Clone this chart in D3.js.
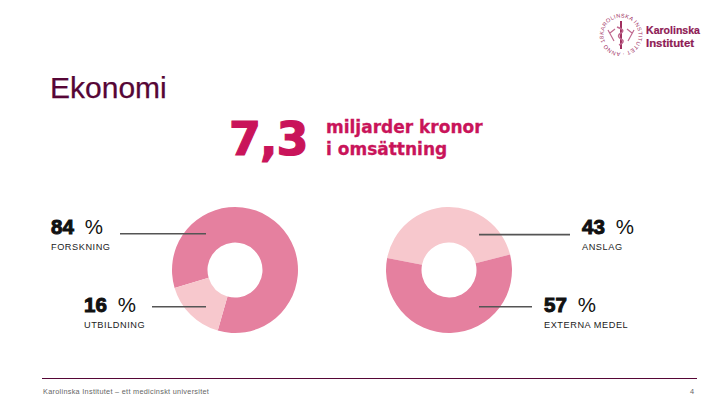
<!DOCTYPE html>
<html>
<head>
<meta charset="utf-8">
<script src="https://d3js.org/d3.v7.min.js"></script>
<style>
html, body { margin: 0; padding: 0; background: #fff; }
text { font-family: "Liberation Sans", Arial, sans-serif; }
</style>
</head>
<body>
<div id="chart"></div>
<script>
var svgWidth = 720;
var svgHeight = 405;

// left donut
var purposeLabels = ["FORSKNING", "UTBILDNING"];
var purposeValues = [84, 16];
// right donut
var fundingLabels = ["ANSLAG", "EXTERNA MEDEL"];
var fundingValues = [43, 57];

var dark = "#e5809f";
var light = "#f7c8cd";
var plum = "#560636";
var crimson = "#c9145a";

var svg = d3.select("#chart")
    .append("svg")
    .attr("width", svgWidth)
    .attr("height", svgHeight)
    .style("display", "block");

function drawDonut(cx, cy, values, colors, startDeg) {
    var start = startDeg * Math.PI / 180;
    var pie = d3.pie().sort(null).startAngle(start).endAngle(start + 2 * Math.PI);
    var arc = d3.arc().innerRadius(27.5).outerRadius(63);
    svg.append("g")
        .attr("transform", `translate(${cx}, ${cy})`)
        .selectAll("path")
        .data(pie(values))
        .enter()
        .append("path")
        .attr("d", arc)
        .attr("fill", (d, i) => colors[i]);
}

drawDonut(235, 270, purposeValues, [dark, light], 253.5);
drawDonut(449, 270, fundingValues, [light, dark], 281);

function callout(x, y, value, label, x1, x2, lineY) {
    var t = svg.append("text")
        .attr("x", x)
        .attr("y", y)
        .attr("font-size", 20.5)
        .attr("fill", "#111");
    t.append("tspan")
        .text(value)
        .attr("font-weight", "bold")
        .attr("stroke", "#111")
        .attr("stroke-width", 1);
    t.append("tspan").attr("dx", 11).text("%");

    svg.append("text")
        .attr("x", x)
        .attr("y", y + 16)
        .attr("font-size", 9.2)
        .attr("letter-spacing", 0.55)
        .attr("fill", "#222")
        .text(label);

    svg.append("line")
        .attr("x1", x1)
        .attr("x2", x2)
        .attr("y1", lineY)
        .attr("y2", lineY)
        .attr("stroke", "#555")
        .attr("stroke-width", 1.6);
}

callout(51, 234, purposeValues[0], purposeLabels[0], 120, 206, 233.7);
callout(84, 311.5, purposeValues[1], purposeLabels[1], 152, 206, 306.8);
callout(582, 234, fundingValues[0], fundingLabels[0], 479, 570, 234.6);
callout(544, 311.5, fundingValues[1], fundingLabels[1], 479, 532, 306.8);

// headings
svg.append("text")
    .attr("x", 50)
    .attr("y", 98)
    .attr("font-size", 30)
    .attr("fill", plum)
    .attr("stroke", plum)
    .attr("stroke-width", 0.25)
    .text("Ekonomi");

svg.append("text")
    .attr("x", 229)
    .attr("y", 155)
    .style("font-family", "DejaVu Sans")
    .attr("font-size", 46)
    .attr("font-weight", "bold")
    .attr("letter-spacing", -1)
    .attr("fill", crimson)
    .attr("stroke", crimson)
    .attr("stroke-width", 1.2)
    .text("7,3");

var subLines = ["miljarder kronor", "i omsättning"];
svg.selectAll(".sub")
    .data(subLines)
    .enter()
    .append("text")
    .attr("class", "sub")
    .attr("x", 326)
    .attr("y", (d, i) => 133 + i * 22)
    .style("font-family", "DejaVu Sans")
    .attr("font-size", 17)
    .attr("font-weight", "bold")
    .attr("fill", crimson)
    .attr("stroke", crimson)
    .attr("stroke-width", 0.3)
    .text(d => d);

// footer
svg.append("line")
    .attr("x1", 42)
    .attr("x2", 697)
    .attr("y1", 378.5)
    .attr("y2", 378.5)
    .attr("stroke", plum)
    .attr("stroke-width", 1);

svg.append("text")
    .attr("x", 43)
    .attr("y", 394)
    .attr("font-size", 7.3)
    .attr("letter-spacing", 0.29)
    .attr("fill", "#666")
    .text("Karolinska Institutet – ett medicinskt universitet");

svg.append("text")
    .attr("x", 690)
    .attr("y", 394)
    .attr("font-size", 7.3)
    .attr("fill", "#666")
    .text("4");

// logo
var logo = svg.append("g").attr("transform", "translate(621, 35)");
logo.append("defs").append("path")
    .attr("id", "sealPath")
    .attr("d", "M -17.5 0 A 17.5 17.5 0 1 1 17.5 0 A 17.5 17.5 0 1 1 -17.5 0");
logo.append("text")
    .attr("font-size", 5.6)
    .attr("fill", "#a0305f")
    .attr("letter-spacing", 0.35)
    .append("textPath")
    .attr("href", "#sealPath")
    .text("KAROLINSKA INSTITUTET · ANNO 1810 ·");
logo.append("line")
    .attr("x1", 0).attr("x2", 0).attr("y1", -14).attr("y2", 14)
    .attr("stroke", "#a0305f").attr("stroke-width", 2);
logo.append("path")
    .attr("d", "M -4 -8 Q 5 -5 0 -2 Q -5 1 0 4 Q 5 7 -2 10")
    .attr("fill", "none").attr("stroke", "#c06a90").attr("stroke-width", 1.5);
logo.append("path")
    .attr("d", "M -13 -5 L -7 6 M 13 -5 L 7 6 M -11 -2 L -6 -6 M 11 -2 L 6 -6")
    .attr("fill", "none").attr("stroke", "#c06a90").attr("stroke-width", 1.2);

svg.selectAll(".logoText")
    .data(["Karolinska", "Institutet"])
    .enter()
    .append("text")
    .attr("class", "logoText")
    .attr("x", 646)
    .attr("y", (d, i) => 34 + i * 13)
    .attr("font-size", 11.5)
    .attr("font-weight", "bold")
    .attr("textLength", (d, i) => i == 0 ? 54 : 48)
    .attr("lengthAdjust", "spacingAndGlyphs")
    .attr("fill", "#8e1a55")
    .attr("stroke", "#8e1a55")
    .attr("stroke-width", 0.2)
    .text(d => d);
</script>
</body>
</html>
